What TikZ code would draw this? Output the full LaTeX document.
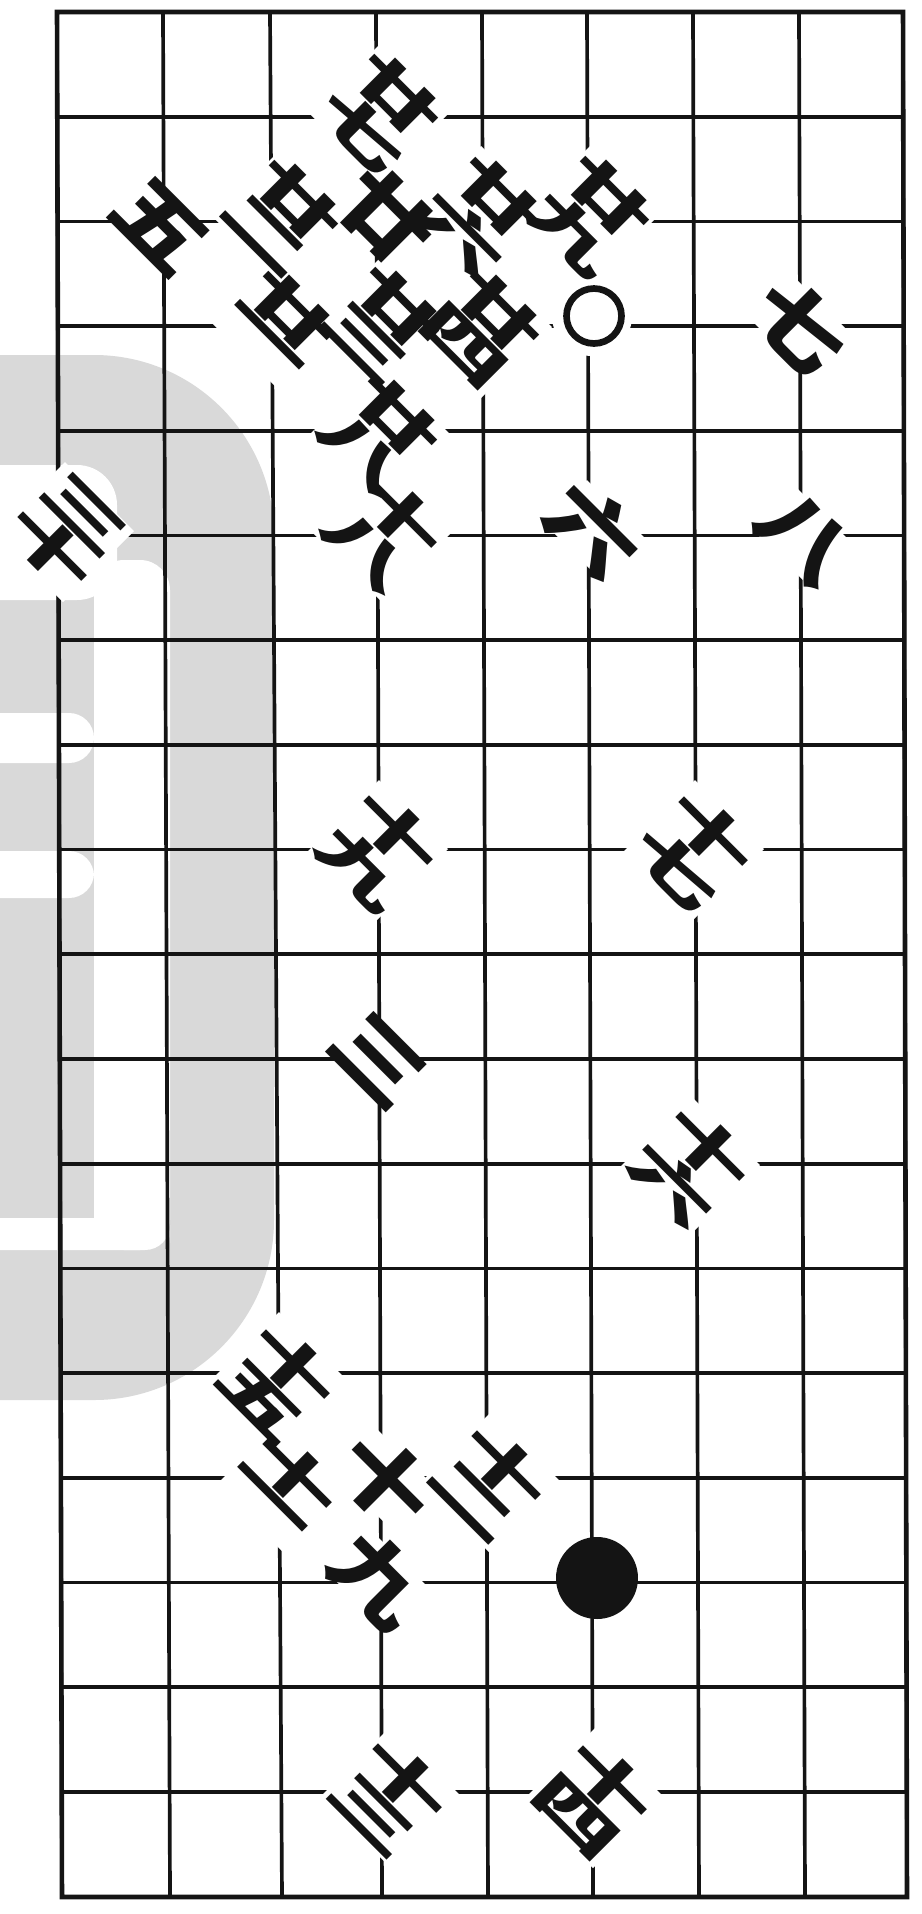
\documentclass[tikz,border=0pt]{standalone}
\usepackage{graphicx}
\usepackage{fontspec}
\newfontfamily\cjk{Noto Sans CJK SC}
\definecolor{wm}{RGB}{217,217,217}
\definecolor{ink}{RGB}{20,20,20}
\newcommand\cmp[2]{\vbox{\offinterlineskip\hbox{\scalebox{1}[0.54]{#1}}\kern1pt\hbox{\scalebox{1}[0.54]{#2}}}}
\newcommand\sgl[1]{\scalebox{1}[0.8]{#1}}
\tikzset{
  gridl/.style={line width=2.1pt, ink},
  borderl/.style={line width=2.6pt, ink},
  lbl/.style={font=\cjk\bfseries\fontsize{56}{56}\selectfont, inner sep=0pt, rotate=-45, text=ink},
  ring/.style={circle, draw=ink, line width=3.8pt, minimum size=1.1cm, inner sep=0pt},
  stone/.style={circle, fill=ink, minimum size=1.64cm, inner sep=0pt},
}
\begin{document}
\begin{tikzpicture}[x=0.02cm,y=-0.02cm]
\useasboundingbox (0,0) rectangle (921,1914);
\fill[white] (0,0) rectangle (921,1914);
% watermark
\fill[wm, rounded corners=3.6cm] (-400,355) rectangle (274,1400);
\fill[white, rounded corners=0.8cm] (-400,465) rectangle (117,600);
\fill[white, rounded corners=0.6cm] (94,560) rectangle (170,1250);
\fill[white, rounded corners=0.5cm] (-400,713) rectangle (94,763);
\fill[white, rounded corners=0.5cm] (-400,851) rectangle (94,898);
\fill[white, rounded corners=0.5cm] (-400,1218) rectangle (170,1250);
% grid
\foreach \a/\b in {57/62,163/170,270/282,376/382,482/488,587/593,693/699,799/805,903/907}
  \draw[gridl] (\a,12) -- (\b,1897);
\foreach \r in {0,...,18}
  \draw[gridl] ({57+5*\r/18},{12+104.7*\r}) -- ({903+4*\r/18},{12+104.7*\r});
\draw[borderl] (57,12) -- (903,12) -- (907,1897) -- (62,1897) -- cycle;
% white patches under labels
\foreach \x/\y in {800/326,804/538,594/530,386/216,160/226,378/1060,385/1480,378/1580}
  \fill[white,shift={(\x,\y)}] (7,50) -- (50,7) -- (-7,-50) -- (-50,-7) -- cycle;
\foreach \x/\y in {590/215,380/113,283/216,480/216,282/322,383/324,482/328,379/434,383/532,64/532,378/850,694/850,690/1166,278/1382,286/1484,490/1482,390/1796,594/1798}
  \fill[white,shift={(\x,\y)}] (-1,70) -- (70,-1) -- (1,-70) -- (-70,1) -- cycle;
\fill[white] (592,316) circle[radius=40];
% labels
\node[lbl] (n7) at (800,326) {\sgl{七}};
\node[lbl] (n29) at (590,215) {\cmp{廿}{九}};
\node[ring] (w1) at (594,316) {};
\node[lbl] (n8) at (804,538) {\sgl{八}};
\node[lbl] (n6) at (594,530) {\sgl{六}};
\node[lbl] (n27) at (380,113) {\cmp{廿}{七}};
\node[lbl] (n22) at (283,216) {\cmp{廿}{二}};
\node[lbl] (n20) at (386,216) {\sgl{廿}};
\node[lbl] (n26) at (480,216) {\cmp{廿}{六}};
\node[lbl] (n21) at (282,322) {\cmp{廿}{一}};
\node[lbl] (n23) at (383,324) {\cmp{廿}{三}};
\node[lbl] (n24) at (482,328) {\cmp{廿}{四}};
\node[lbl] (n28) at (379,434) {\cmp{廿}{八}};
\node[lbl] (n18) at (383,532) {\cmp{十}{八}};
\node[lbl] (n5) at (160,226) {\sgl{五}};
\node[lbl] (n30) at (66,532) {\cmp{三}{十}};
\node[lbl] (n19) at (378,850) {\cmp{十}{九}};
\node[lbl] (n17) at (694,850) {\cmp{十}{七}};
\node[lbl] (n3) at (378,1060) {\sgl{三}};
\node[lbl] (n16) at (690,1166) {\cmp{十}{六}};
\node[lbl] (n15) at (278,1382) {\cmp{十}{五}};
\node[lbl] (n11) at (286,1484) {\cmp{十}{一}};
\node[lbl] (n10) at (385,1480) {\sgl{十}};
\node[lbl] (n12) at (490,1482) {\cmp{十}{二}};
\node[lbl] (n9) at (378,1580) {\sgl{九}};
\node[stone] (b1) at (597,1578) {};
\node[lbl] (n13) at (390,1796) {\cmp{十}{三}};
\node[lbl] (n14) at (594,1798) {\cmp{十}{四}};
\end{tikzpicture}
\end{document}
